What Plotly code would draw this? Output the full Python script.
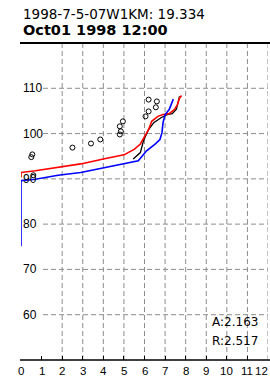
import plotly.graph_objects as go

# ---- data ----
red_x = [0, 0, 0.7, 1.8, 2.9, 4.0, 5.0, 5.5, 5.8, 6.2, 6.35, 6.65, 6.9, 7.2, 7.45, 7.6, 7.7, 7.8]
red_y = [90.3, 91.4, 91.8, 92.5, 93.3, 94.4, 95.3, 96.5, 97.7, 100.9, 102.7, 103.8, 104.2, 104.4, 105.3, 106.4, 107.8, 108.4]

blue_x = [0, 0, 0.7, 1.8, 2.9, 3.8, 5.0, 5.7, 6.1, 6.5, 6.75, 6.85, 6.9, 7.0, 7.2, 7.4]
blue_y = [75.1, 89.6, 89.9, 90.8, 91.4, 92.2, 93.4, 94.0, 96.2, 97.6, 98.7, 100.2, 102.4, 104.2, 105.3, 107.6]

black_x = [5.45, 5.8, 5.95, 6.2, 6.45, 6.8, 7.1, 7.35, 7.55, 7.65, 7.7]
black_y = [94.4, 95.8, 98.4, 100.9, 102.4, 103.5, 104.2, 104.4, 105.4, 107.1, 108.2]

obs_x = [0.6, 0.5, 0.55, 2.5, 3.4, 3.85, 4.8, 4.85, 4.8, 4.95, 6.05, 6.2, 6.55, 6.6, 6.2]
obs_y = [90.8, 94.8, 95.4, 96.9, 97.8, 98.7, 99.8, 100.5, 101.6, 102.7, 103.8, 104.9, 105.8, 107.1, 107.5]

x_ticks = list(range(0, 13))
y_labels = [60, 70, 80, 90, 100, 110]
v_grid = list(range(2, 13))

title1 = "1998-7-5-07W1KM: 19.334"
title2 = "Oct01 1998 12:00"
stat_a = "A:2.163"
stat_r = "R:2.517"

fig = go.Figure()
fig.add_trace(go.Scatter(x=black_x, y=black_y, mode="lines",
                         line=dict(color="black", width=1.3), hoverinfo="skip"))
fig.add_trace(go.Scatter(x=red_x, y=red_y, mode="lines",
                         line=dict(color="#ff0000", width=1.6), hoverinfo="skip"))
fig.add_trace(go.Scatter(x=blue_x, y=blue_y, mode="lines",
                         line=dict(color="#0000ff", width=1.6), hoverinfo="skip"))
fig.add_trace(go.Scatter(x=obs_x, y=obs_y, mode="markers",
                         marker=dict(symbol="circle-open", size=5, color="black",
                                     line=dict(width=1, color="black")),
                         hoverinfo="skip"))

shapes = []
grid_col = "#8c8c8c"
for gx in v_grid:
    shapes.append(dict(type="line", xref="x", yref="y", x0=gx, x1=gx, y0=50, y1=120,
                       line=dict(color=grid_col, width=1, dash="5px,3px"), layer="below"))
for gy in y_labels:
    shapes.append(dict(type="line", xref="x", yref="y", x0=1.07, x1=12, y0=gy, y1=gy,
                       line=dict(color=grid_col, width=1, dash="5px,3px"), layer="below"))
# top and bottom black lines
shapes.append(dict(type="line", xref="paper", yref="paper", x0=-0.004, x1=1.01, y0=1, y1=1,
                   line=dict(color="black", width=2)))
shapes.append(dict(type="line", xref="paper", yref="paper", x0=-0.004, x1=1.01, y0=0, y1=0,
                   line=dict(color="black", width=1.5)))

annotations = []
for v in y_labels:
    annotations.append(dict(text=str(v), xref="paper", yref="y", x=0, y=v, xanchor="left",
                            yanchor="middle", xshift=0, showarrow=False,
                            font=dict(family="Liberation Sans, Arial", size=12, color="black")))
for t in x_ticks:
    last = (t == x_ticks[-1])
    annotations.append(dict(text=str(t), xref="x", yref="paper", x=t, y=0,
                            xanchor="right" if last else "center",
                            xshift=2 if last else 0,
                            yanchor="top", yshift=-3, showarrow=False,
                            font=dict(family="Liberation Sans, Arial", size=11.5, color="black")))
annotations.append(dict(text=title1, xref="paper", yref="paper", x=0, y=(360 - 14) / 317,
                        xanchor="left", yanchor="middle", xshift=0, showarrow=False,
                        font=dict(family="DejaVu Sans", size=13.5, color="black")))
annotations.append(dict(text="<b>" + title2 + "</b>", xref="paper", yref="paper", x=0,
                        y=(360 - 30) / 317, xanchor="left", yanchor="middle", showarrow=False,
                        font=dict(family="DejaVu Sans", size=14.5, color="black")))
annotations.append(dict(text=stat_a, xref="x", yref="y", x=9.18, y=58.4, xanchor="left",
                        yanchor="middle", showarrow=False,
                        font=dict(family="DejaVu Sans", size=12, color="black")))
annotations.append(dict(text=stat_r, xref="x", yref="y", x=9.18, y=54.2, xanchor="left",
                        yanchor="middle", showarrow=False,
                        font=dict(family="DejaVu Sans", size=12, color="black")))

fig.update_layout(
    width=270, height=381,
    margin=dict(l=21, r=2, t=43, b=21, pad=0),
    paper_bgcolor="white", plot_bgcolor="white",
    showlegend=False,
    shapes=shapes, annotations=annotations,
    xaxis=dict(range=[0, 12], tickvals=x_ticks, showticklabels=False,
               showgrid=False, zeroline=False, showline=False,
               ticks="inside", ticklen=4, tickwidth=1, tickcolor="black",
               fixedrange=True),
    yaxis=dict(range=[50, 120], showgrid=False, zeroline=False, showline=False,
               showticklabels=False, ticks="", fixedrange=True),
    font=dict(family="Liberation Sans, Arial"),
)

fig.write_html("out.html", config={"displayModeBar": False},
               post_script="document.body.style.margin='0';document.body.style.padding='0';"
                           "document.documentElement.style.overflow='hidden';")
